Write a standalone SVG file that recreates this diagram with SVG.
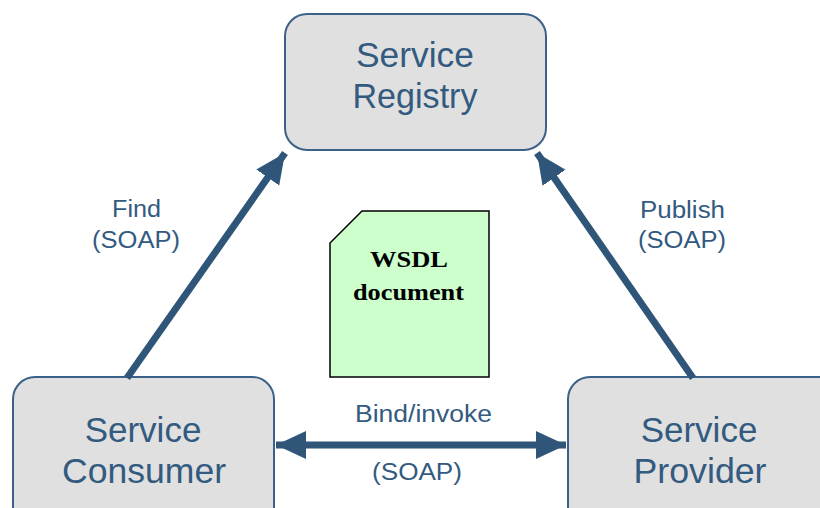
<svg xmlns="http://www.w3.org/2000/svg" width="820" height="508" viewBox="0 0 820 508">
  <style>
    .box { fill: #e0e0e0; stroke: #3b6189; stroke-width: 2; }
    .title { font-family: "Liberation Sans", Arial, sans-serif; font-size: 35px; fill: #335a7f; text-anchor: middle; }
    .label { font-family: "Liberation Sans", Arial, sans-serif; font-size: 23px; fill: #335a7f; text-anchor: middle; }
    .conn { stroke: #2f5579; stroke-width: 7; fill: none; }
    .doc { fill: #ccffcc; stroke: #000; stroke-width: 1.5; }
    .doctext { font-family: "Liberation Serif", "Times New Roman", serif; font-weight: bold; font-size: 23px; fill: #000; text-anchor: middle; }
  </style>
  <defs>
    <marker id="head" markerUnits="userSpaceOnUse" markerWidth="34" markerHeight="30" refX="30" refY="15" orient="auto-start-reverse">
      <path d="M0,1 L30,15 L0,29 Z" fill="#2f5579"/>
    </marker>
  </defs>
  <rect width="820" height="508" fill="#ffffff"/>

  <g id="registry">
    <rect class="box" x="285" y="14" width="261" height="136" rx="22"/>
    <text class="title" x="415" y="67" textLength="118" lengthAdjust="spacingAndGlyphs">Service</text>
    <text class="title" x="415" y="108" textLength="125" lengthAdjust="spacingAndGlyphs">Registry</text>
  </g>

  <g id="consumer">
    <rect class="box" x="13" y="377" width="261" height="160" rx="22"/>
    <text class="title" x="143" y="442">Service</text>
    <text class="title" x="144" y="483" textLength="164" lengthAdjust="spacingAndGlyphs">Consumer</text>
  </g>

  <g id="provider">
    <rect class="box" x="568" y="377" width="280" height="160" rx="22"/>
    <text class="title" x="699" y="442">Service</text>
    <text class="title" x="700" y="483" textLength="133" lengthAdjust="spacingAndGlyphs">Provider</text>
  </g>

  <g id="wsdl">
    <path class="doc" d="M362,211 L489,211 L489,377 L330,377 L330,243 Z"/>
    <text class="doctext" x="409" y="267" textLength="78" lengthAdjust="spacingAndGlyphs">WSDL</text>
    <text class="doctext" x="408.5" y="300" textLength="111" lengthAdjust="spacingAndGlyphs">document</text>
  </g>

  <g id="connectors">
    <line class="conn" x1="127" y1="378" x2="285" y2="153" marker-end="url(#head)"/>
    <line class="conn" x1="693" y1="378" x2="537" y2="153" marker-end="url(#head)"/>
    <line class="conn" x1="276" y1="445" x2="566" y2="445" marker-start="url(#head)" marker-end="url(#head)"/>
    <text class="label" x="136.5" y="217" textLength="49" lengthAdjust="spacingAndGlyphs">Find</text>
    <text class="label" x="136" y="248" textLength="88" lengthAdjust="spacingAndGlyphs">(SOAP)</text>
    <text class="label" x="682.5" y="218" textLength="85" lengthAdjust="spacingAndGlyphs">Publish</text>
    <text class="label" x="682" y="248" textLength="88" lengthAdjust="spacingAndGlyphs">(SOAP)</text>
    <text class="label" x="423.5" y="422" textLength="137" lengthAdjust="spacingAndGlyphs">Bind/invoke</text>
    <text class="label" x="417" y="480" textLength="90" lengthAdjust="spacingAndGlyphs">(SOAP)</text>
  </g>
</svg>
